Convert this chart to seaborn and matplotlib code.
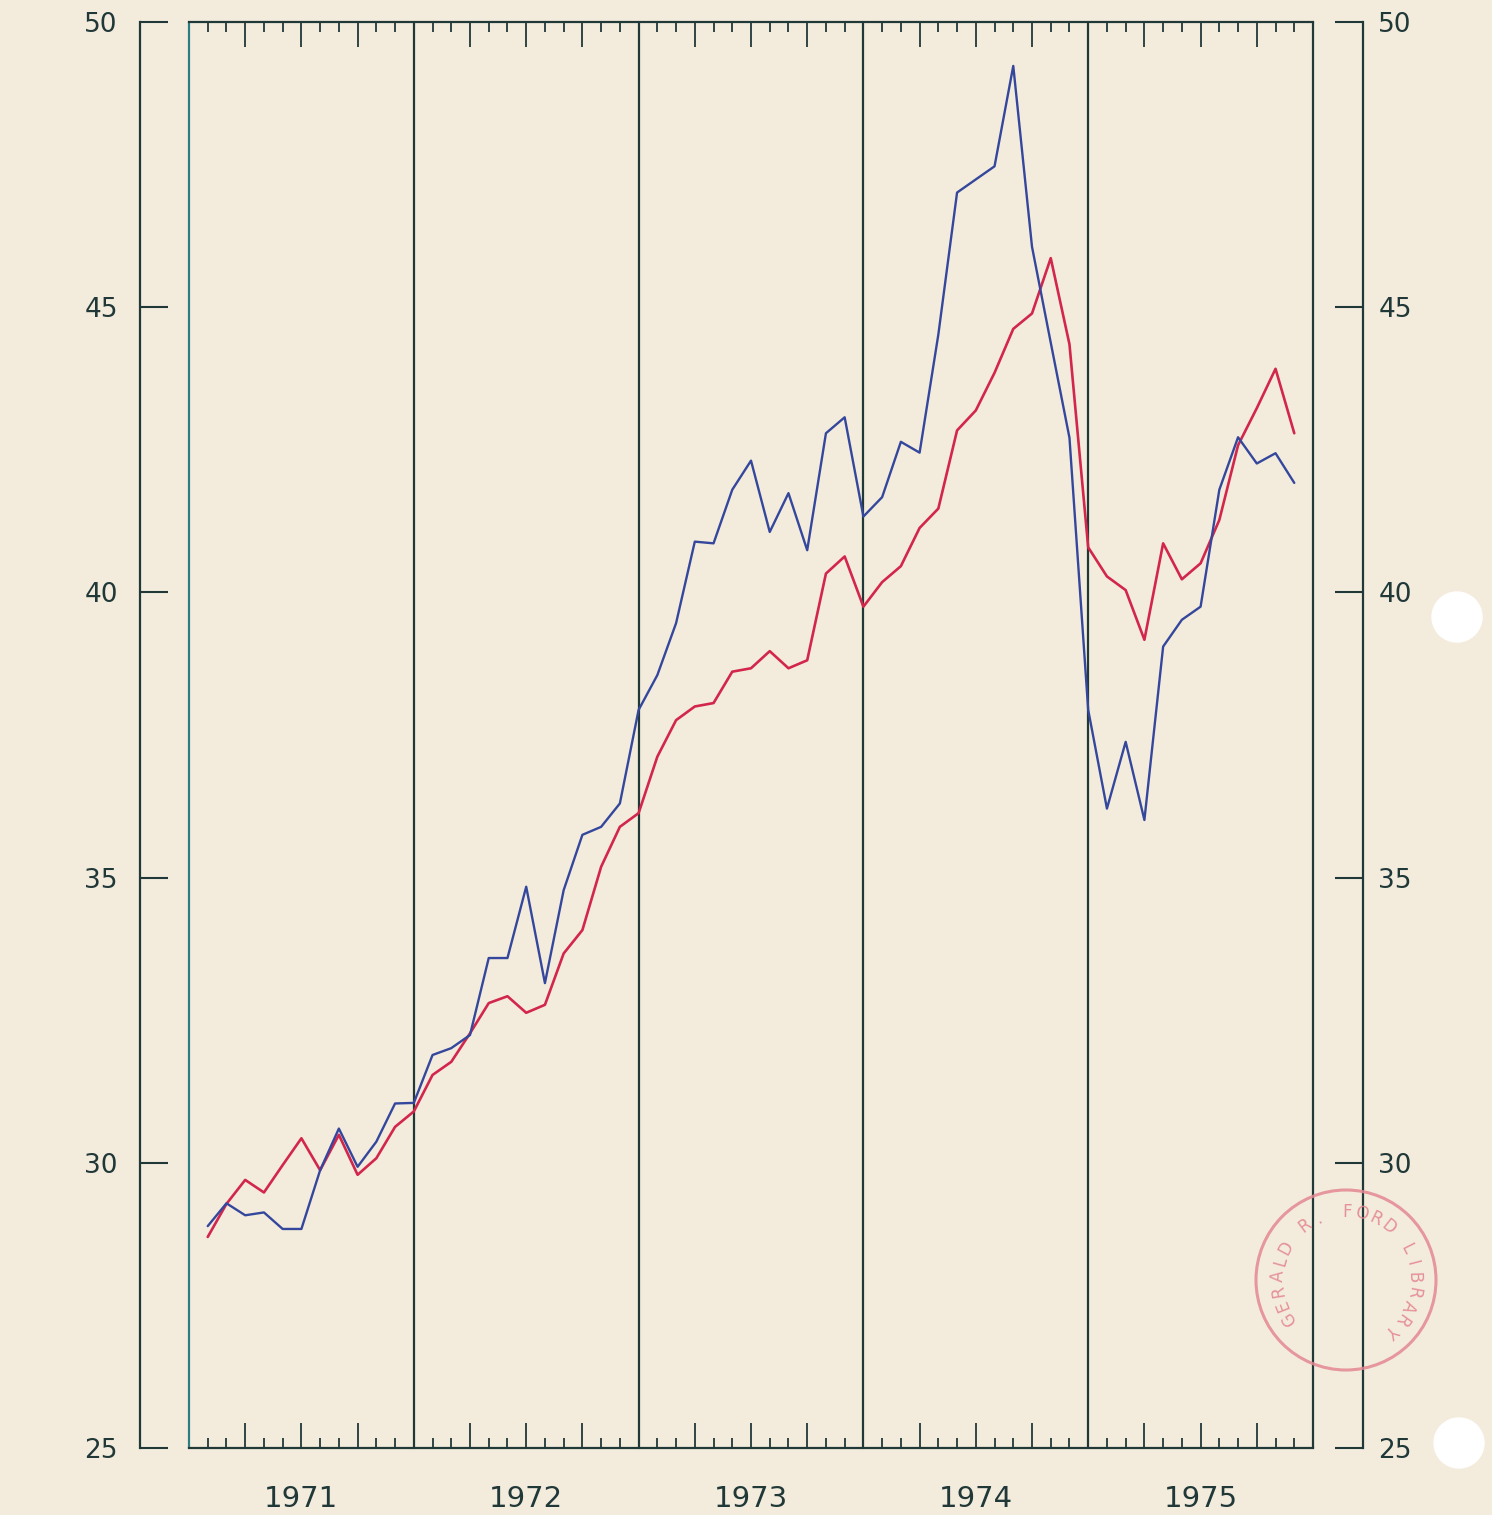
import numpy as np
import pandas as pd
import matplotlib.pyplot as plt
import seaborn as sns
from matplotlib.patches import Circle
from matplotlib.ticker import MultipleLocator

# valeurs mensuelles (fin de mois, fev. 1971 -> dec. 1975)
month_index = list(range(1, 60))
red_series = [28.70, 29.28, 29.70, 29.48, 29.96, 30.43, 29.87, 30.49, 29.79, 30.08,
              30.63, 30.90, 31.54, 31.77, 32.27, 32.80, 32.92, 32.63, 32.77, 33.67,
              34.08, 35.19, 35.89, 36.13, 37.12, 37.76, 38.00, 38.06, 38.61, 38.67,
              38.97, 38.67, 38.81, 40.33, 40.63, 39.75, 40.18, 40.46, 41.13, 41.47,
              42.84, 43.19, 43.85, 44.62, 44.89, 45.86, 44.35, 40.79, 40.28, 40.04,
              39.17, 40.86, 40.23, 40.51, 41.27, 42.58, 43.23, 43.92, 42.79]
blue_series = [28.89, 29.29, 29.08, 29.13, 28.84, 28.84, 29.87, 30.60, 29.93, 30.37,
               31.04, 31.05, 31.89, 32.01, 32.24, 33.59, 33.59, 34.84, 33.15, 34.78,
               35.75, 35.89, 36.30, 37.94, 38.55, 39.46, 40.89, 40.86, 41.80, 42.31,
               41.06, 41.74, 40.74, 42.79, 43.07, 41.33, 41.67, 42.64, 42.45, 44.52,
               47.01, 47.24, 47.47, 49.23, 46.06, 44.38, 42.71, 37.94, 36.21, 37.38,
               36.01, 39.05, 39.52, 39.75, 41.80, 42.72, 42.26, 42.44, 41.92]
years = [1971, 1972, 1973, 1974, 1975]
y_ticks = [25, 30, 35, 40, 45, 50]
stamp_text = "GERALD R. FORD LIBRARY"

paper = "#f3ecdd"
ink = "#213838"
teal = "#2b7f82"
red = "#d3264c"
blue = "#34479c"
stamp_col = "#e48792"

sns.set_style("ticks")
plt.rcParams['font.family'] = ['DejaVu Sans']

W, H = 1492, 1515
fig = plt.figure(figsize=(W / 100, H / 100), dpi=100, facecolor=paper)
box_l, box_r, box_t, box_b = 189, 1313, 22, 1448
ax = fig.add_axes([box_l / W, 1 - box_b / H, (box_r - box_l) / W, (box_b - box_t) / H])
ax.set_facecolor(paper)

df = pd.DataFrame({
    "t": 1971 + np.array(month_index) / 12,
    "red": red_series,
    "blue": blue_series,
})
sns.lineplot(data=df, x="t", y="red", color=red, lw=1.9, ax=ax)
sns.lineplot(data=df, x="t", y="blue", color=blue, lw=1.7, ax=ax)

ax.set_xlim(1971, 1976)
ax.set_ylim(25, 50)
ax.set_xlabel("")
ax.set_ylabel("")

# cadre et separations annuelles
for sp in ["top", "bottom"]:
    ax.spines[sp].set_color(ink)
    ax.spines[sp].set_linewidth(1.6)
ax.spines["right"].set_visible(False)
for i, yr in enumerate(years + [1976]):
    ax.axvline(yr, color=teal if i == 0 else ink, lw=1.6, clip_on=False, zorder=1)

# graduations mensuelles haut et bas
ax.xaxis.set_major_locator(MultipleLocator(0.25))
ax.xaxis.set_minor_locator(MultipleLocator(1 / 12))
ax.tick_params(axis="x", which="both", direction="in", top=True, bottom=True,
               labelbottom=False, color=ink, width=1.3)
ax.tick_params(axis="x", which="major", length=18)
ax.tick_params(axis="x", which="minor", length=7)
for yr in years:
    ax.text(yr + 0.5, -0.036, str(yr), transform=ax.get_xaxis_transform(),
            ha="center", va="center", fontsize=21, color=ink)

# axe gauche decale
ax.spines["left"].set_position(("outward", 49 * 0.72))
ax.spines["left"].set_color(ink)
ax.spines["left"].set_linewidth(1.6)
ax.set_yticks(y_ticks)
ax.tick_params(axis="y", direction="in", length=20, width=1.5, color=ink,
               labelsize=19, labelcolor=ink, pad=16)

# axe droit decale
ax2 = ax.twinx()
ax2.set_ylim(25, 50)
ax2.set_yticks(y_ticks)
for sp in ["left", "top", "bottom"]:
    ax2.spines[sp].set_visible(False)
ax2.spines["right"].set_position(("outward", 50 * 0.72))
ax2.spines["right"].set_color(ink)
ax2.spines["right"].set_linewidth(1.6)
ax2.tick_params(axis="y", direction="in", length=20, width=1.5, color=ink,
                labelsize=19, labelcolor=ink, pad=11)

# tampon et perforations
ov = fig.add_axes([0, 0, 1, 1], zorder=5)
ov.set_xlim(0, W)
ov.set_ylim(H, 0)
ov.axis("off")
cx, cy = 1346, 1280
ov.add_patch(Circle((cx, cy), 90, fill=False, ec=stamp_col, lw=2.2, alpha=0.85))
angles = np.linspace(214, -48, len(stamp_text))
for ch, a in zip(stamp_text, angles):
    r = np.deg2rad(a)
    ov.text(cx + 68 * np.cos(r), cy - 68 * np.sin(r), ch, rotation=a - 90,
            ha="center", va="center", fontsize=12, color=stamp_col, alpha=0.9)
ov.add_patch(Circle((1457, 617), 25, color="white"))
ov.add_patch(Circle((1459, 1443), 25, color="white"))

fig.savefig("out.png", dpi=100, facecolor=paper)
